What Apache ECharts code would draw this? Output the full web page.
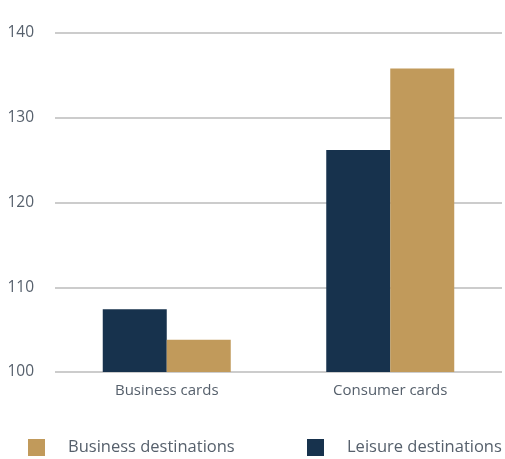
<!DOCTYPE html>
<html><head><meta charset="utf-8">
<script src="https://cdn.jsdelivr.net/npm/echarts@6/dist/echarts.min.js"></script>
<style>html,body{margin:0;padding:0;background:#fff}#c{width:505px;height:459px}</style>
</head><body><div id="c"></div>
<script>
const categories = ['Business cards', 'Consumer cards'];
const leisure = [107.4, 126.2];
const business = [103.8, 135.8];
const yTicks = [100, 110, 120, 130, 140];

const font = '"Open Sans", "Noto Sans", sans-serif';
const textColor = '#56606c';
const chart = echarts.init(document.getElementById('c'));
chart.setOption({
  animation: false,
  grid: { left: 55, right: 3, top: 33, bottom: 87 },
  legend: [
    { data: ['Business destinations'], left: 23, top: 434, itemWidth: 17, itemHeight: 17, icon: 'rect',
      textStyle: { fontFamily: font, fontSize: 16.5, color: textColor, padding: [0, 0, 0, 18] } },
    { data: ['Leisure destinations'], left: 302, top: 434, itemWidth: 17, itemHeight: 17, icon: 'rect',
      textStyle: { fontFamily: font, fontSize: 16.5, color: textColor, padding: [0, 0, 0, 18] } }
  ],
  xAxis: {
    type: 'category', data: categories,
    axisLine: { show: false }, axisTick: { show: false },
    axisLabel: { fontFamily: font, fontSize: 15, color: textColor, margin: 11 }
  },
  yAxis: {
    type: 'value', min: yTicks[0], max: yTicks[yTicks.length - 1], interval: 10,
    axisLine: { show: false }, axisTick: { show: false },
    axisLabel: { fontFamily: font, fontSize: 15.5, color: textColor, margin: 21 },
    splitLine: { lineStyle: { color: '#cccccc', width: 2 } }
  },
  series: [
    { name: 'Leisure destinations', type: 'bar', data: leisure, barWidth: 64, barGap: '0%',
      itemStyle: { color: '#17324d' } },
    { name: 'Business destinations', type: 'bar', data: business, barWidth: 64, barGap: '0%',
      itemStyle: { color: '#c19a5b' } }
  ]
});
</script></body></html>
